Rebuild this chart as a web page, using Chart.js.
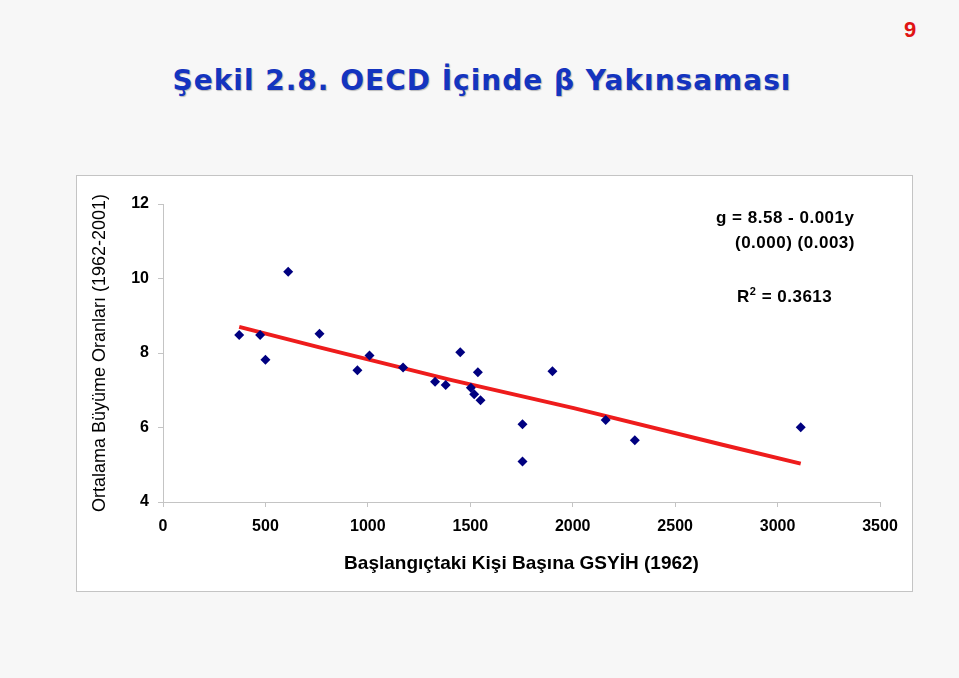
<!DOCTYPE html>
<html>
<head>
<meta charset="utf-8">
<script src="https://cdn.jsdelivr.net/npm/chart.js@4/dist/chart.umd.min.js"></script>
<style>
  body { margin: 0; background: #f7f7f7; width: 959px; height: 678px; position: relative; overflow: hidden; }
  #title { position: absolute; left: 0; width: 964px; top: 64px; text-align: center; font: bold 28px "DejaVu Sans", Verdana, sans-serif; letter-spacing: 1px; color: #1434bf; text-shadow: 1px 1px 1px rgba(0,0,0,0.25); }
  #pageNo { position: absolute; left: 904px; top: 17px; font: bold 22px "Liberation Sans", Arial, sans-serif; color: #e01414; }
  #box { position: absolute; left: 76px; top: 175px; width: 835px; height: 415px; background: #fff; border: 1px solid #c4c4c4; }
  #box canvas { position: absolute; left: 0; top: 0; }
  .note { position: absolute; font: bold 17px "Liberation Sans", Arial, sans-serif; letter-spacing: 0.5px; color: #000; white-space: nowrap; }
  .note sup { font-size: 11px; vertical-align: 7px; }
</style>
</head>
<body>
<div id="pageNo">9</div>
<div id="title">Şekil 2.8. OECD İçinde β Yakınsaması</div>
<div id="box">
  <canvas id="myChart1" width="835" height="415"></canvas>
  <div class="note" style="left:639px; top:32px;">g = 8.58 - 0.001y</div>
  <div class="note" style="left:658px; top:57px;">(0.000) (0.003)</div>
  <div class="note" style="left:660px; top:109px;">R<sup>2</sup> = 0.3613</div>
</div>
<script>
// GSYİH 1962 (x) vs ortalama büyüme 1962-2001 (y)
let gdp1962 = [372, 474, 500, 611, 764, 949, 1008, 1172, 1328, 1380, 1451, 1503, 1519, 1537, 1550, 1755, 1755, 1901, 2161, 2303, 3113];
let growth = [8.48, 8.48, 7.82, 10.18, 8.52, 7.54, 7.93, 7.61, 7.23, 7.14, 8.02, 7.07, 6.89, 7.48, 6.73, 6.09, 5.09, 7.51, 6.20, 5.66, 6.01];
// trend line
let trendX = [372, 764, 1404, 2005, 2736, 3113];
let trendY = [8.70, 8.15, 7.28, 6.52, 5.53, 5.03];
let xTicks = [0, 500, 1000, 1500, 2000, 2500, 3000, 3500];
let yTicks = [4, 6, 8, 10, 12];

let points = gdp1962.map((x, i) => ({x: x, y: growth[i]}));
let trend = trendX.map((x, i) => ({x: x, y: trendY[i]}));

let tickFont = { family: 'Liberation Sans', size: 16, weight: 'bold' };
let axisColor = '#c4c4c4';

let ctx = document.getElementById('myChart1').getContext('2d');
let myChart1 = new Chart(ctx, {
  type: 'scatter',
  data: {
    datasets: [{
      data: points,
      pointStyle: 'rectRot',
      pointRadius: 5,
      backgroundColor: '#000080',
      borderColor: '#000080',
      borderWidth: 0,
      order: 1
    }, {
      type: 'line',
      data: trend,
      borderColor: '#ee1c1c',
      borderWidth: 4,
      pointRadius: 0,
      fill: false,
      tension: 0,
      order: 2
    }]
  },
  options: {
    responsive: false,
    animation: false,
    layout: { padding: { top: 28, right: 32, bottom: 0, left: 0 } },
    plugins: { legend: { display: false }, tooltip: { enabled: false } },
    scales: {
      x: {
        type: 'linear',
        min: 0, max: 3500,
        afterBuildTicks: (s) => { s.ticks = xTicks.map(v => ({value: v})); },
        afterFit: (s) => { s.height = 89; },
        border: { color: axisColor },
        grid: { drawOnChartArea: false, color: axisColor, tickLength: 5 },
        ticks: { color: '#000', font: tickFont, padding: 10, maxRotation: 0, callback: (v) => String(v) },
        title: {
          display: true,
          text: 'Başlangıçtaki Kişi Başına GSYİH (1962)',
          color: '#000',
          font: { family: 'Liberation Sans', size: 19, weight: 'bold' },
          padding: { top: 0, bottom: 16 }
        }
      },
      y: {
        min: 4, max: 12,
        afterBuildTicks: (s) => { s.ticks = yTicks.map(v => ({value: v})); },
        afterFit: (s) => { s.width = 86; },
        border: { color: axisColor },
        grid: { drawOnChartArea: false, color: axisColor, tickLength: 5 },
        ticks: { color: '#000', font: tickFont, padding: 9, callback: (v) => String(v) },
        title: {
          display: true,
          text: 'Ortalama Büyüme Oranları (1962-2001)',
          color: '#000',
          font: { family: 'Liberation Sans', size: 18 },
          padding: { top: 12, bottom: 0 }
        }
      }
    }
  }
});
</script>
</body>
</html>
